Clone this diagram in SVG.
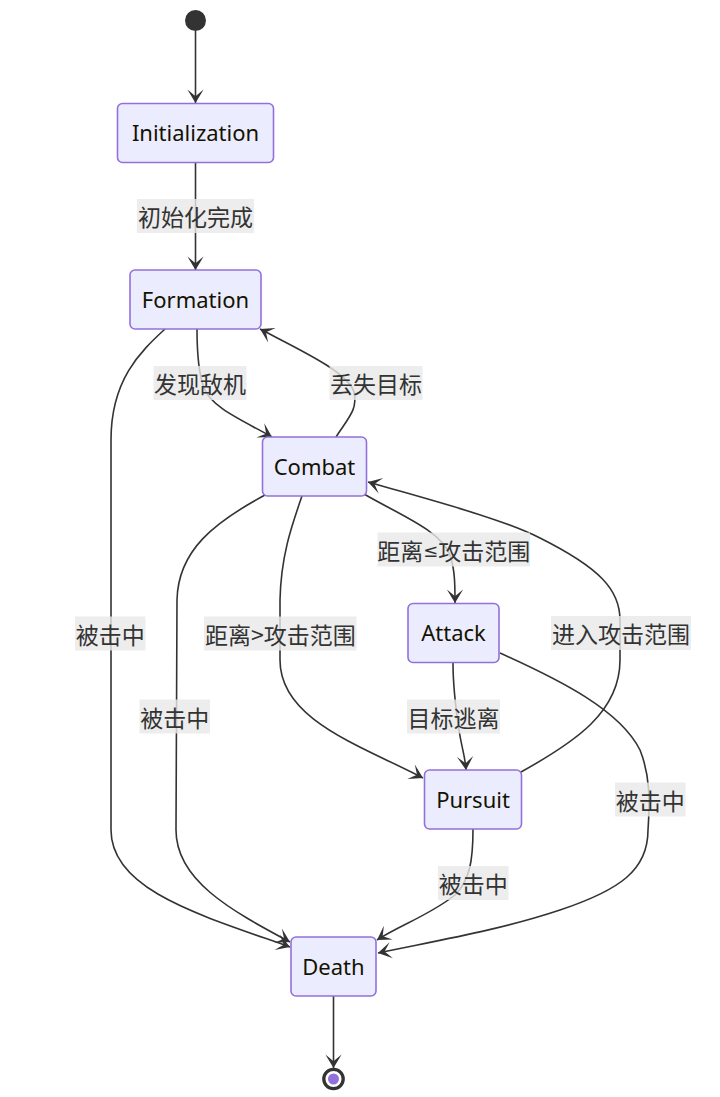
<svg xmlns="http://www.w3.org/2000/svg" width="720" height="1097" viewBox="0 0 720 1097">
<style>
.node rect{fill:#ECECFF;stroke:#9370DB;stroke-width:1.6}
.node text{font-family:"Noto Sans","DejaVu Sans",sans-serif;font-size:22px;fill:#131300;text-anchor:middle;dominant-baseline:central}
.edge{fill:none;stroke:#333;stroke-width:1.6;marker-end:url(#barb)}
.lbl rect{fill:#e8e8e8;fill-opacity:0.8}
.lbl text{font-family:"Noto Sans CJK SC","Noto Sans",sans-serif;font-size:23px;fill:#333;text-anchor:middle;dominant-baseline:central}
.narrow{font-family:"DejaVu Sans","Noto Sans",sans-serif}
</style>
<defs>
<marker id="barb" viewBox="0 0 20 14" refX="19" refY="7" markerWidth="27" markerHeight="19" markerUnits="userSpaceOnUse" orient="auto">
<path d="M19,7 L9,13 L14,7 L9,1 Z" fill="#333"/>
</marker>
</defs>
<rect width="720" height="1097" fill="#fff"/>
<g id="connectors">
<path class="edge" d="M195.5,31 L195.5,103"/>
<path class="edge" d="M195.5,162.5 L195.5,270"/>
<path class="edge" d="M197,329 C197,352 198,372 204,388 C212,408 242,420 272,437"/>
<path class="edge" d="M336,437 C348,418 358,410 354,392 C348,372 300,350 260,329"/>
<path class="edge" d="M165,329 C140,352 111,380 111,440 L111,830 C111,890 200,915 290,947"/>
<path class="edge" d="M265,495 C215,522 178,550 177,600 L176,830 C176,880 230,910 290,942"/>
<path class="edge" d="M302,496 C292,525 281,555 280,600 L280,660 C280,720 360,745 423,778"/>
<path class="edge" d="M364,494 C400,515 440,530 450,555 C455,570 455,585 455,603"/>
<path class="edge" d="M521,772 C575,742 620,712 620,660 L620,620 C620,590 600,568 540,538 C500,518 430,500 368,482"/>
<path class="edge" d="M453,663 C453,690 456,710 459,730 C462,750 465,755 466,770"/>
<path class="edge" d="M500,653 C560,680 620,710 640,750 C650,775 650,800 648,830 C648,870 620,890 560,910 C500,930 440,940 378,953"/>
<path class="edge" d="M473,829 C473,860 470,880 455,895 C430,915 400,925 377,940"/>
<path class="edge" d="M333.5,996 L333.5,1068"/>
<g class="lbl"><rect x="137" y="199" width="117" height="34"/><text x="195.5" y="216">初始化完成</text></g>
<g class="lbl"><rect x="153.5" y="366" width="93" height="34"/><text x="200" y="383">发现敌机</text></g>
<g class="lbl"><rect x="329.5" y="366" width="93" height="34"/><text x="376" y="383">丢失目标</text></g>
<g class="lbl"><rect x="75" y="616.5" width="70.5" height="34"/><text x="110.3" y="633.5">被击中</text></g>
<g class="lbl"><rect x="204" y="616.5" width="152.5" height="34"/><text x="280.3" y="633.5">距离&gt;攻击范围</text></g>
<g class="lbl"><rect x="139.5" y="699.5" width="70.5" height="34"/><text x="174.7" y="716.5">被击中</text></g>
<g class="lbl"><rect x="377.5" y="532.5" width="152.5" height="34"/><text x="453.7" y="549.5">距离<tspan class="narrow" font-size="18px">≤</tspan>攻击范围</text></g>
<g class="lbl"><rect x="551" y="616" width="140" height="34"/><text x="621" y="633">进入攻击范围</text></g>
<g class="lbl"><rect x="407" y="699.5" width="93" height="34"/><text x="453.5" y="716.5">目标逃离</text></g>
<g class="lbl"><rect x="615" y="782.5" width="70.5" height="34"/><text x="650.2" y="799.5">被击中</text></g>
<g class="lbl"><rect x="438" y="866" width="70.5" height="34"/><text x="473.2" y="883">被击中</text></g>
</g>
<g id="start"><circle cx="195.5" cy="20.5" r="10.5" fill="#333"/></g>
<g id="Initialization" class="node"><rect x="117.5" y="103.5" width="156" height="59" rx="5"/><text x="195.5" y="132">Initialization</text></g>
<g id="Formation" class="node"><rect x="130" y="270" width="131" height="59" rx="5"/><text x="195.5" y="298.5">Formation</text></g>
<g id="Combat" class="node"><rect x="262.5" y="437" width="104" height="59" rx="5"/><text x="314.5" y="465.5">Combat</text></g>
<g id="Attack" class="node"><rect x="408" y="603.5" width="91" height="59" rx="5"/><text x="453.5" y="632">Attack</text></g>
<g id="Pursuit" class="node"><rect x="424.5" y="770" width="97" height="59" rx="5"/><text x="473" y="798.5">Pursuit</text></g>
<g id="Death" class="node"><rect x="291" y="937" width="85" height="59" rx="5"/><text x="333.5" y="965.5">Death</text></g>
<g id="end"><circle cx="333.5" cy="1079" r="9.7" fill="#fff" stroke="#333" stroke-width="3.3"/><circle cx="333.5" cy="1079" r="5.5" fill="#9370DB"/></g>
</svg>
